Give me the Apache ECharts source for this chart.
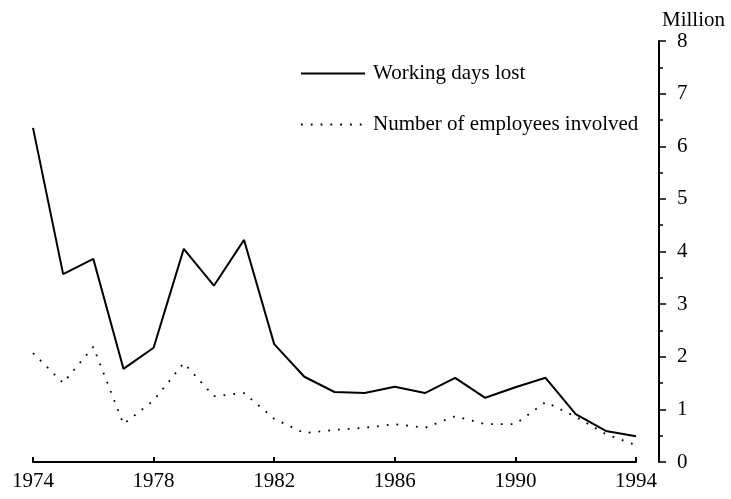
<!DOCTYPE html>
<html>
<head>
<meta charset="utf-8">
<script src="https://cdn.jsdelivr.net/npm/echarts@6/dist/echarts.min.js"></script>
<style>
  html, body { margin: 0; padding: 0; background: #fff; }
  #chart { width: 731px; height: 499px; }
</style>
</head>
<body>
<div id="chart"></div>
<script>
// years on x axis
var years = [1974, 1975, 1976, 1977, 1978, 1979, 1980, 1981, 1982, 1983, 1984,
  1985, 1986, 1987, 1988, 1989, 1990, 1991, 1992, 1993, 1994];
// million
var workingDaysLost = [6.35, 3.57, 3.86, 1.77, 2.17, 4.05, 3.35, 4.22, 2.24, 1.62, 1.33,
  1.31, 1.43, 1.31, 1.6, 1.22, 1.42, 1.6, 0.91, 0.59, 0.49];
var employeesInvolved = [2.07, 1.5, 2.19, 0.72, 1.17, 1.88, 1.25, 1.31, 0.82, 0.55, 0.61,
  0.65, 0.72, 0.65, 0.87, 0.72, 0.72, 1.14, 0.86, 0.53, 0.32];
var seriesNames = ["Working days lost", "Number of employees involved"];

var font = "'Liberation Serif', 'DejaVu Serif', serif";

function pairs(vals) {
  return years.map(function (y, i) { return [y, vals[i]]; });
}

var myChart = echarts.init(document.getElementById("chart"));
myChart.setOption({
  backgroundColor: "#fff",
  animation: false,
  grid: { left: 33, right: 95, top: 41, bottom: 37 },
  legend: {
    left: 300,
    top: 63,
    padding: 0,
    orient: "vertical",
    itemWidth: 64,
    itemHeight: 14,
    itemGap: 30,
    itemStyle: { opacity: 0 },
    textStyle: { fontFamily: font, fontSize: 21, color: "#000", padding: [0, 0, 0, 3] },
    data: seriesNames
  },
  xAxis: {
    type: "value",
    min: 1974,
    max: 1994,
    interval: 4,
    axisLine: { lineStyle: { color: "#000", width: 2 } },
    axisTick: { inside: true, length: 5, lineStyle: { color: "#000", width: 2 } },
    splitLine: { show: false },
    axisLabel: {
      fontFamily: font, fontSize: 21, color: "#000", margin: 9,
      formatter: function (v) { return String(v); }
    }
  },
  yAxis: {
    type: "value",
    position: "right",
    offset: 23,
    min: 0,
    max: 8,
    interval: 1,
    name: "Million",
    nameLocation: "end",
    nameGap: 10,
    nameTextStyle: { fontFamily: font, fontSize: 21, color: "#000", align: "left", padding: [0, 0, 0, 3] },
    axisLine: { show: true, lineStyle: { color: "#000", width: 2 } },
    axisTick: { show: true, length: 7, lineStyle: { color: "#000", width: 1.5 } },
    minorTick: { show: true, splitNumber: 2, length: 4, lineStyle: { color: "#000", width: 1.5 } },
    splitLine: { show: false },
    axisLabel: { fontFamily: font, fontSize: 21, color: "#000", margin: 18 }
  },
  series: [
    {
      name: seriesNames[0],
      type: "line",
      data: pairs(workingDaysLost),
      symbol: "none",
      lineStyle: { color: "#000", width: 2 },
      itemStyle: { color: "#000" }
    },
    {
      name: seriesNames[1],
      type: "line",
      data: pairs(employeesInvolved),
      symbol: "none",
      lineStyle: { color: "#000", width: 1.8, type: [1.8, 8] },
      itemStyle: { color: "#000" }
    }
  ]
});
</script>
</body>
</html>
